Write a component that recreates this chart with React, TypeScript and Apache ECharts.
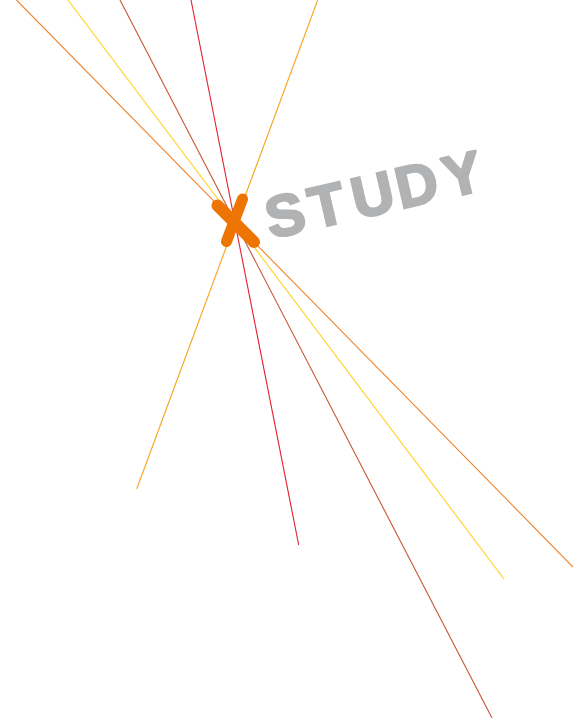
import React, { useEffect, useRef } from "react";
import * as echarts from "echarts";

const W = 573;
const H = 718;

// Rays: [startX, startY, endX, endY] in page pixels
const rayNames = ["ray1", "ray2", "ray3", "ray4", "ray5"];
const rayStarts = [
  [16.5, 0],
  [68, 0],
  [120, 0],
  [191, 0],
  [317.7, 0],
];
const rayEnds = [
  [573, 567],
  [504, 579],
  [492, 718],
  [298.7, 545],
  [136.7, 489],
];
const rayColors = ["#ef8229", "#ffd21f", "#c65636", "#e4202d", "#f7a41e"];

const word = ["S", "T", "U", "D", "Y"];
const letterOffsets = [0, 43, 90, 135, 182];

export default function App() {
  const ref = useRef<HTMLDivElement>(null);
  useEffect(() => {
    document.body.style.margin = "0";
    const chart = echarts.init(ref.current!, null, { renderer: "svg" });
    const angle = (13 * Math.PI) / 180;
    const orange = "#ee7404";
    const gray = "#b1b2b3";
    chart.setOption({
      animation: false,
      grid: { left: 0, right: 0, top: 0, bottom: 0 },
      xAxis: { type: "value", min: 0, max: W, show: false },
      yAxis: { type: "value", min: 0, max: H, inverse: true, show: false },
      series: rayNames.map((n, i) => ({
        name: n,
        type: "line",
        symbol: "none",
        data: [rayStarts[i], rayEnds[i]],
        lineStyle: { color: rayColors[i], width: 1.1 },
        z: 2,
      })),
      graphic: [
        {
          type: "group",
          z: 100,
          children: [
            {
              type: "line",
              shape: { x1: 217.5, y1: 205.5, x2: 254, y2: 242 },
              style: { stroke: orange, lineWidth: 12, lineCap: "round" },
              z: 100,
            },
            {
              type: "line",
              shape: { x1: 242.5, y1: 199, x2: 226.5, y2: 241.5 },
              style: { stroke: orange, lineWidth: 11, lineCap: "round" },
              z: 100,
            },
          ],
        },
        {
          type: "group",
          x: 285,
          y: 215,
          rotation: angle,
          z: 100,
          children: word.map((ch, i) => ({
            type: "text",
            x: letterOffsets[i],
            y: 0,
            z: 100,
            style: {
              text: ch,
              fill: gray,
              stroke: gray,
              lineWidth: 2.5,
              lineJoin: "round",
              fontSize: 58,
              fontWeight: "bold",
              fontFamily: "Liberation Sans",
              align: "center",
              verticalAlign: "middle",
            },
          })),
        },
      ],
    });
    return () => chart.dispose();
  }, []);
  return <div ref={ref} style={{ width: W, height: H }} />;
}
